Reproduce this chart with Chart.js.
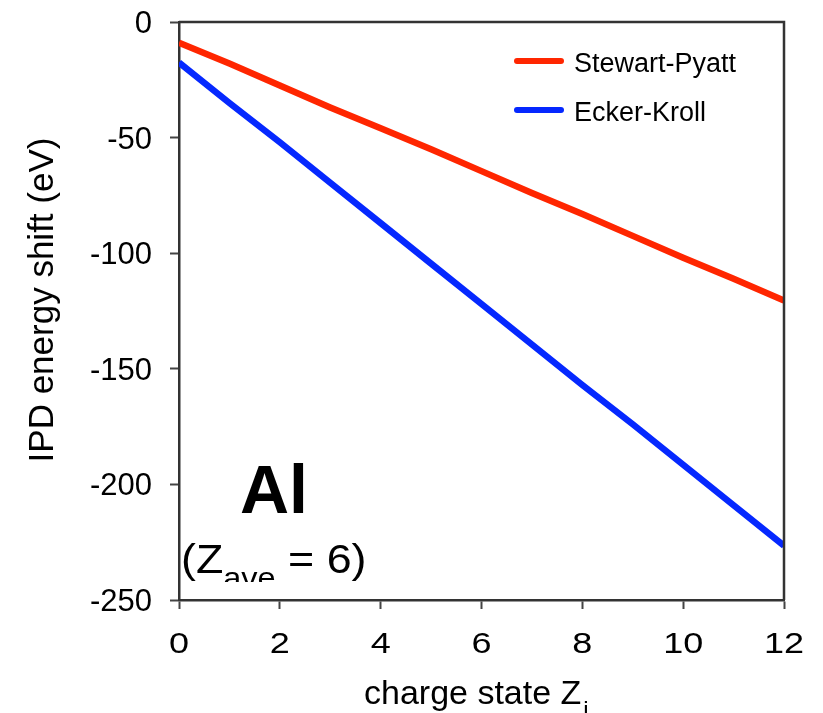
<!DOCTYPE html>
<html>
<head>
<meta charset="utf-8">
<script src="https://cdn.jsdelivr.net/npm/chart.js@4"></script>
<style>
  html, body { margin: 0; padding: 0; background: #fff; }
  #wrap { width: 823px; height: 713px; }
</style>
</head>
<body>
<div id="wrap"><canvas id="ipdChart" width="823" height="713"></canvas></div>
<script>
// charge state values along the x axis
const chargeStates = [0, 1, 2, 3, 4, 5, 6, 7, 8, 9, 10, 11, 12];
// IPD energy shift (eV)
const stewartPyatt = [-9, -18, -27.5, -37, -46, -55, -64.5, -74, -83, -92.5, -102, -111, -120.5];
const eckerKroll = [-17.5, -35, -52, -69.5, -87, -104.5, -122, -139.5, -157, -174, -191.5, -209, -226.5];
const xTicks = [0, 2, 4, 6, 8, 10, 12];
const yTicks = [0, -50, -100, -150, -200, -250];

const seriesNames = ['Stewart-Pyatt', 'Ecker-Kroll'];
const seriesColors = ['rgb(255,38,0)', 'rgb(5,40,255)'];

const FONT = '"Liberation Sans", Arial, Helvetica, sans-serif';

function toPoints(ys) {
    return chargeStates.map((x, i) => ({ x: x, y: ys[i] }));
}

// draw one label stretched horizontally around its anchor
function stretchedText(ctx, text, x, y, sx) {
    ctx.save();
    ctx.translate(x, y);
    ctx.scale(sx, 1);
    ctx.fillText(text, 0, 0);
    ctx.restore();
}

// frame, tick labels, legend and text labels drawn on top of the chart
const decorations = {
    id: 'decorations',
    afterDraw(chart) {
        const ctx = chart.ctx;
        const a = chart.chartArea;
        const xs = chart.scales.x;
        const ys = chart.scales.y;
        ctx.save();

        // box around the plot
        ctx.strokeStyle = '#333';
        ctx.lineWidth = 2.5;
        ctx.beginPath();
        ctx.moveTo(a.left, a.top);
        ctx.lineTo(a.right, a.top);
        ctx.lineTo(a.right, a.bottom);
        ctx.stroke();

        // tick labels, placed with the chart's own scales
        ctx.fillStyle = '#000';
        ctx.textBaseline = 'alphabetic';
        ctx.font = '30px ' + FONT;
        ctx.textAlign = 'center';
        xTicks.forEach(v => {
            stretchedText(ctx, String(v), xs.getPixelForValue(v), a.bottom + 53, 1.2);
        });
        ctx.font = '31px ' + FONT;
        ctx.textAlign = 'right';
        yTicks.forEach(v => {
            stretchedText(ctx, String(v), a.left - 27, ys.getPixelForValue(v) + 11, 1.0);
        });

        // legend inside top right
        ctx.lineCap = 'round';
        ctx.font = '27px ' + FONT;
        ctx.textBaseline = 'middle';
        ctx.textAlign = 'left';
        seriesNames.forEach((name, i) => {
            const y = 61 + i * 49;
            ctx.strokeStyle = seriesColors[i];
            ctx.lineWidth = 6;
            ctx.beginPath();
            ctx.moveTo(517, y);
            ctx.lineTo(561, y);
            ctx.stroke();
            ctx.fillStyle = '#000';
            ctx.fillText(name, 574, y + 4);
        });

        ctx.fillStyle = '#000';
        ctx.textBaseline = 'alphabetic';

        // y axis title
        ctx.save();
        ctx.translate(53, 300);
        ctx.rotate(-Math.PI / 2);
        ctx.textAlign = 'center';
        ctx.font = '35px ' + FONT;
        ctx.fillText('IPD energy shift (eV)', 0, 0);
        ctx.restore();

        // x axis title with subscript
        ctx.textAlign = 'left';
        ctx.font = '34px ' + FONT;
        const xt = 'charge state Z';
        ctx.fillText(xt, 364, 704);
        const w = ctx.measureText(xt).width;
        ctx.font = '24px ' + FONT;
        ctx.fillText('i', 364 + w + 2, 718);

        // element label
        ctx.font = 'bold 68px ' + FONT;
        ctx.fillText('Al', 240, 513);

        // (Z_ave = 6), bottom clipped like the original
        ctx.save();
        ctx.beginPath();
        ctx.rect(a.left, 520, 300, 62);
        ctx.clip();
        ctx.translate(181, 0);
        ctx.scale(1.12, 1);
        ctx.font = '40px ' + FONT;
        let x = 0;
        ctx.fillText('(Z', x, 573);
        x += ctx.measureText('(Z').width;
        ctx.font = '29px ' + FONT;
        ctx.fillText('ave', x, 588);
        x += ctx.measureText('ave').width;
        ctx.font = '40px ' + FONT;
        ctx.fillText(' = 6)', x, 573);
        ctx.restore();

        ctx.restore();
    }
};

new Chart(document.getElementById('ipdChart'), {
    type: 'line',
    data: {
        datasets: [
            {
                label: seriesNames[0],
                data: toPoints(stewartPyatt),
                borderColor: seriesColors[0],
                backgroundColor: seriesColors[0],
                borderWidth: 6.5,
                pointRadius: 0,
                tension: 0,
                clip: 0
            },
            {
                label: seriesNames[1],
                data: toPoints(eckerKroll),
                borderColor: seriesColors[1],
                backgroundColor: seriesColors[1],
                borderWidth: 6.5,
                pointRadius: 0,
                tension: 0,
                clip: 0
            }
        ]
    },
    options: {
        responsive: false,
        animation: false,
        events: [],
        layout: { padding: { top: 22, right: 39, left: 0, bottom: 0 } },
        plugins: {
            legend: { display: false },
            tooltip: { enabled: false }
        },
        scales: {
            x: {
                type: 'linear',
                min: 0,
                max: 12,
                afterFit: s => {
                    s.height = 113;
                    s.paddingLeft = 0;
                    s.paddingRight = 0;
                },
                afterBuildTicks: s => { s.ticks = xTicks.map(v => ({ value: v })); },
                ticks: { display: false },
                grid: { drawOnChartArea: false, tickLength: 9, tickColor: '#444', tickWidth: 2 },
                border: { color: '#333', width: 2.5 }
            },
            y: {
                type: 'linear',
                min: -250,
                max: 0,
                afterFit: s => {
                    s.width = 179;
                    s.paddingTop = 0;
                    s.paddingBottom = 0;
                },
                afterBuildTicks: s => { s.ticks = yTicks.map(v => ({ value: v })); },
                ticks: { display: false },
                grid: { drawOnChartArea: false, tickLength: 9, tickColor: '#444', tickWidth: 2 },
                border: { color: '#333', width: 2.5 }
            }
        }
    },
    plugins: [decorations]
});
</script>
</body>
</html>
